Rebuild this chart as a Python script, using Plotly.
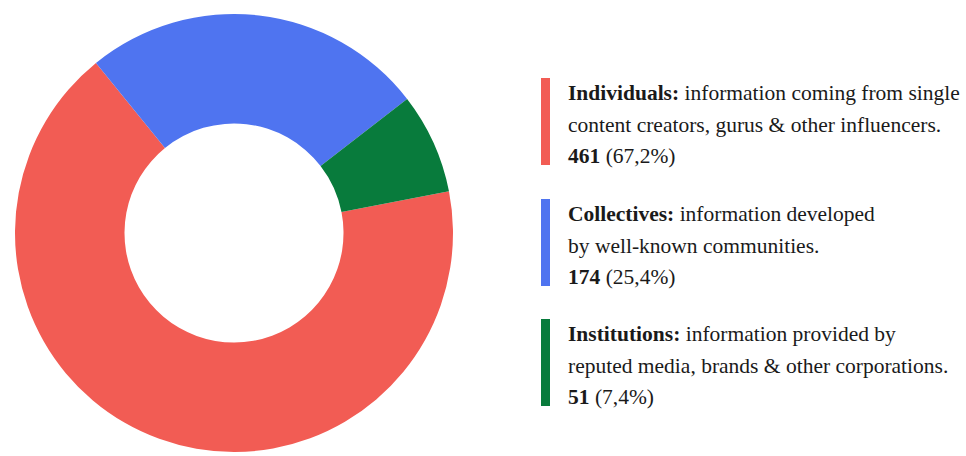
import plotly.graph_objects as go

# Source categories and counts
categories = ["Individuals", "Collectives", "Institutions"]
counts = [461, 174, 51]
colors = ["#F25C54", "#4F74F0", "#087B3C"]
descriptions = [
    ["information coming from single", "content creators, gurus & other influencers."],
    ["information developed", "by well-known communities."],
    ["information provided by", "reputed media, brands & other corporations."],
]

W, H = 966, 456
total = sum(counts)

fig = go.Figure(
    go.Pie(
        labels=categories,
        values=counts,
        marker=dict(colors=colors, line=dict(width=0)),
        hole=0.5,
        sort=False,
        direction="clockwise",
        rotation=79,
        textinfo="none",
        hoverinfo="label+value+percent",
        showlegend=False,
        domain=dict(x=[12 / W, 456 / W], y=[4 / H, 442 / H]),
    )
)

font = dict(family="Liberation Serif, Times New Roman, serif", size=21.5, color="#1a1a1a")

# Custom legend: coloured bar plus three lines of text per category
group_top = [78, 199, 319]
line_gap = 31.5
annotations = []
shapes = []
for i, cat in enumerate(categories):
    top = group_top[i]
    shapes.append(dict(
        type="rect", xref="paper", yref="paper",
        x0=541 / W, x1=550 / W,
        y0=1 - top / H, y1=1 - (top + 87) / H,
        fillcolor=colors[i], line=dict(width=0),
    ))
    pct = f"{100 * counts[i] / total:.1f}".replace(".", ",")
    lines = [
        f"<b>{cat}:</b> {descriptions[i][0]}",
        descriptions[i][1],
        f"<b>{counts[i]}</b> ({pct}%)",
    ]
    for j, txt in enumerate(lines):
        yc = top + 15 + j * line_gap
        annotations.append(dict(
            text=txt, xref="paper", yref="paper",
            x=566 / W, y=1 - yc / H,
            xanchor="left", yanchor="middle",
            showarrow=False, align="left", font=font,
        ))

fig.update_layout(
    width=W, height=H,
    margin=dict(l=0, r=0, t=0, b=0),
    paper_bgcolor="white",
    plot_bgcolor="white",
    shapes=shapes,
    annotations=annotations,
)

fig.write_html("out.html")
